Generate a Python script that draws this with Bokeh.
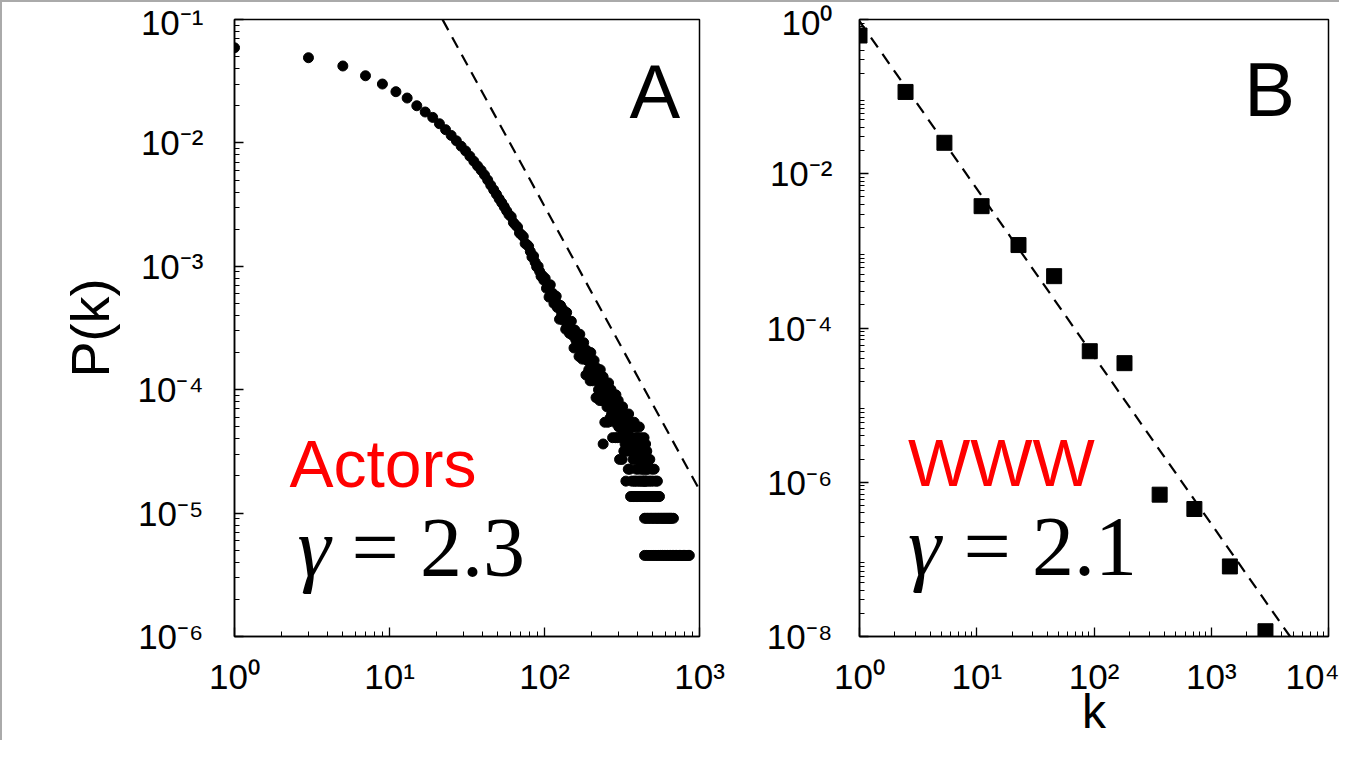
from bokeh.plotting import figure
from bokeh.layouts import row
from bokeh.models import FixedTicker, Label, ColumnDataSource, CustomJSTickFormatter
from bokeh.embed import file_html
from bokeh.resources import INLINE

# ---------------- data: panel A (actors) ----------------
actors_head_k = [1, 3, 5, 7, 9, 11, 13, 15, 17, 19, 21, 23, 25, 27, 29, 31, 33, 35, 37, 39,
                 41, 43, 45, 47, 49, 51, 53, 55, 57, 59, 61, 63, 65, 67, 69, 71, 73, 75, 77, 79,
                 81, 83, 85, 87, 89, 91, 93, 95, 97, 99]
actors_head_p = [0.059, 0.049, 0.042, 0.035, 0.030, 0.026, 0.0231, 0.0200, 0.0178, 0.0161,
                 0.0143, 0.0128, 0.0115, 0.0104, 0.0094, 0.0086, 0.0078, 0.0071, 0.0065, 0.0060,
                 0.0055, 0.0050, 0.00454, 0.00416, 0.00383, 0.00352, 0.00327, 0.00303, 0.00281, 0.00262,
                 0.00252, 0.00226, 0.00216, 0.00208, 0.00186, 0.00180, 0.00174, 0.00153, 0.00150, 0.00145,
                 0.00132, 0.00119, 0.00121, 0.00108, 0.00099, 0.00100, 0.00091, 0.00083, 0.00084, 0.00077]

# tail of the actor distribution: degree k and number of actors with that degree
actors_total = 220264
actors_tail_k = [101, 103, 105, 107, 109, 111, 113, 115, 117, 119, 121, 123, 125, 127, 129, 131, 133, 135, 137, 139,
                 141, 143, 145, 147, 149, 151, 153, 155, 157, 159, 161, 163, 165, 167, 169, 171, 173, 175, 177, 179,
                 181, 183, 185, 187, 189, 191, 193, 195, 197, 199, 201, 203, 205, 207, 209, 211, 213, 215, 217, 219,
                 221, 223, 225, 227, 229, 231, 233, 235, 237, 239, 239, 241, 243, 245, 247, 249, 251, 253, 255, 257,
                 259, 261, 263, 265, 267, 269, 271, 273, 275, 277, 279, 281, 283, 285, 287, 289, 291, 293, 295, 297,
                 299, 301, 303, 305, 307, 309, 311, 313, 315, 317, 319, 321, 323, 325, 327, 329, 331, 333, 335, 337,
                 339, 341, 343, 345, 347, 349, 351, 353, 355, 357, 359, 361, 363, 365, 367, 369, 371, 373, 375, 377,
                 379, 381, 383, 385, 387, 389, 391, 393, 395, 397, 399, 401, 403, 405, 407, 409, 411, 413, 415, 417,
                 419, 421, 423, 425, 427, 429, 431, 433, 435, 437, 439, 441, 443, 445, 447, 449, 451, 453, 455, 457,
                 459, 465, 471, 478, 484, 492, 500, 510, 522, 535]
actors_tail_n = [176, 146, 151, 124, 156, 128, 133, 110, 117, 126, 102, 108, 82, 106, 91, 99, 80, 86, 68, 93,
                 74, 79, 63, 70, 79, 61, 67, 48, 67, 56, 63, 49, 54, 41, 62, 47, 51, 39, 45, 53,
                 39, 45, 29, 46, 38, 44, 32, 37, 26, 44, 32, 36, 26, 31, 38, 27, 32, 19, 33, 26,
                 32, 22, 26, 18, 32, 23, 26, 18, 22, 28, 8, 19, 23, 12, 24, 19, 24, 16, 20, 12,
                 25, 17, 20, 13, 17, 22, 14, 18, 9, 19, 15, 19, 12, 15, 9, 20, 13, 16, 9, 13,
                 18, 11, 14, 6, 15, 11, 15, 9, 12, 6, 16, 10, 13, 7, 10, 14, 8, 11, 4, 13,
                 9, 13, 7, 10, 5, 14, 8, 11, 5, 9, 12, 7, 9, 4, 11, 7, 11, 6, 8, 4,
                 12, 7, 9, 4, 7, 11, 5, 8, 4, 9, 6, 9, 5, 7, 4, 11, 6, 8, 4, 6,
                 9, 5, 7, 4, 8, 5, 8, 4, 6, 4, 9, 5, 7, 4, 5, 8, 4, 6, 4, 7,
                 5, 5, 4, 6, 4, 5, 4, 5, 4, 4]
# degrees held by exactly 3, 2 and 1 actors (the flat rows at the bottom)
actors_k_n3 = [359, 367, 375, 383, 391, 399, 407, 415, 423, 431, 439, 447, 455, 463, 471, 479,
               487, 495, 503, 511, 519, 527, 535, 543, 552]
actors_k_n2 = [442, 452, 462, 472, 482, 492, 502, 512, 522, 532, 542, 552, 562, 572, 582, 592,
               602, 612, 622, 632, 642, 652, 662, 679]
actors_k_n1 = [442, 457, 472, 487, 502, 517, 532, 547, 562, 577, 592, 607, 622, 637, 652, 667,
               682, 697, 712, 727, 742, 757, 772, 787, 802, 817, 832, 847, 860]

actors_fit_k = [22, 1000]
actors_fit_p = [0.0998, 1.54e-5]

# ---------------- data: panel B (WWW) ----------------
www_k = [1, 2.47, 5.3, 11.0, 22.7, 45.7, 92, 182, 363, 718, 1442, 2900]
www_p = [0.62, 0.115, 0.0252, 0.0038, 0.00119, 4.7e-4, 5.0e-5, 3.5e-5, 6.9e-7, 4.5e-7, 8.1e-8, 1.17e-8]
www_fit_k = [1, 4700]
www_fit_p = [0.95, 1.0e-8]

# ---------------- build ----------------
actors_k = list(actors_head_k) + list(actors_tail_k)
actors_p = list(actors_head_p) + [n / actors_total for n in actors_tail_n]
for cnt, ks in ((3, actors_k_n3), (2, actors_k_n2), (1, actors_k_n1)):
    actors_k += ks
    actors_p += [cnt / actors_total] * len(ks)

SANS = "Liberation Sans"
SERIF = "Liberation Serif"
TICK_SIZE = "35px"

pow_fmt = CustomJSTickFormatter(code="""
const sup = {'-': '\u207b', '0': '\u2070', '1': '\u00b9', '2': '\u00b2', '3': '\u00b3',
             '4': '\u2074', '5': '\u2075', '6': '\u2076', '7': '\u2077', '8': '\u2078', '9': '\u2079'};
const e = Math.round(Math.log10(tick));
return '10' + String(e).split('').map(c => sup[c]).join('');
""")


def minor_list(lo, hi):
    out = []
    for e in range(lo, hi):
        for m in range(2, 10):
            out.append(m * 10.0 ** e)
    return out


def style(p, xt, xminor, yt, yminor, ystand):
    p.xaxis.ticker = FixedTicker(ticks=xt, minor_ticks=xminor)
    p.yaxis.ticker = FixedTicker(ticks=yt, minor_ticks=yminor)
    for ax in (p.xaxis[0], p.yaxis[0]):
        ax.formatter = pow_fmt
        ax.major_tick_in = 9
        ax.major_tick_out = 0
        ax.minor_tick_in = 5
        ax.minor_tick_out = 0
        ax.axis_line_width = 1.5
        ax.axis_line_color = "black"
        ax.major_tick_line_color = "black"
        ax.minor_tick_line_color = "black"
        ax.major_tick_line_width = 1.3
        ax.minor_tick_line_width = 1.0
        ax.major_label_text_font = SANS
        ax.major_label_text_font_size = TICK_SIZE
        ax.major_label_text_color = "black"
        ax.axis_label_text_font = SANS
        ax.axis_label_text_font_style = "normal"
        ax.axis_label_text_color = "black"
    p.xaxis.major_label_standoff = 20
    p.yaxis.major_label_standoff = ystand
    p.xgrid.visible = False
    p.ygrid.visible = False
    p.outline_line_color = "black"
    p.outline_line_width = 1.5
    p.background_fill_color = "white"
    p.border_fill_color = "white"


def lab(p, x, y, text, font, size, color="black", style_="normal", align="left"):
    p.add_layout(Label(x=x, y=y, text=text, text_font=font, text_font_size=size,
                       text_font_style=style_, text_color=color,
                       text_baseline="alphabetic", text_align=align))


pA = figure(width=737, height=738, x_axis_type="log", y_axis_type="log",
            x_range=(1, 1000), y_range=(1e-6, 1e-1),
            min_border_left=232, min_border_right=40, min_border_top=14, min_border_bottom=100,
            output_backend="svg", toolbar_location=None)
style(pA, [1, 10, 100, 1000], minor_list(0, 3),
      [1e-6, 1e-5, 1e-4, 1e-3, 1e-2, 1e-1], minor_list(-6, -1), 31)
pA.yaxis.axis_label = "P(k)"
pA.yaxis.axis_label_text_font_size = "54px"
pA.yaxis.axis_label_standoff = 15

srcA = ColumnDataSource(dict(k=actors_k, p=actors_p))
pA.line(actors_fit_k, actors_fit_p, line_color="black", line_width=2.2, line_dash="12 8")
pA.scatter("k", "p", source=srcA, marker="circle", size=10, fill_color="black", line_color="black")

lab(pA, 353, 0.0260, "A", SANS, "76px")
lab(pA, 2.26, 2.52e-5, "Actors", SANS, "66px", color="#ff0000")
lab(pA, 2.55, 5.26e-6, "γ", SERIF, "84px", style_="italic")
lab(pA, 5.69, 5.26e-6, "= 2.3", SERIF, "84px")

pB = figure(width=600, height=738, x_axis_type="log", y_axis_type="log",
            x_range=(1, 10000), y_range=(1e-8, 1),
            min_border_left=120, min_border_right=11, min_border_top=17, min_border_bottom=100,
            output_backend="svg", toolbar_location=None)
style(pB, [1, 10, 100, 1000, 10000], minor_list(0, 4),
      [1e-8, 1e-6, 1e-4, 1e-2, 1], minor_list(-8, 0), 27)
pB.xaxis.axis_label = "k"
pB.xaxis.axis_label_text_font_size = "48px"
pB.xaxis.axis_label_standoff = -14

pB.line(www_fit_k, www_fit_p, line_color="black", line_width=2.2, line_dash="12 8")
pB.scatter(www_k, www_p, marker="square", size=15, fill_color="black", line_color="black")

lab(pB, 1910, 0.125, "B", SANS, "76px")
lab(pB, 2.59, 1.79e-6, "WWW", SANS, "66px", color="#ff0000")
lab(pB, 2.59, 1.48e-7, "γ", SERIF, "84px", style_="italic")
lab(pB, 7.71, 1.48e-7, "= 2.1", SERIF, "84px")

layout = row(pA, pB, spacing=0,
             styles={"border-top": "2px solid #aaaaaa", "border-left": "2px solid #aaaaaa",
                     "background-color": "white"})

open("out.html", "w").write(file_html(layout, INLINE))
